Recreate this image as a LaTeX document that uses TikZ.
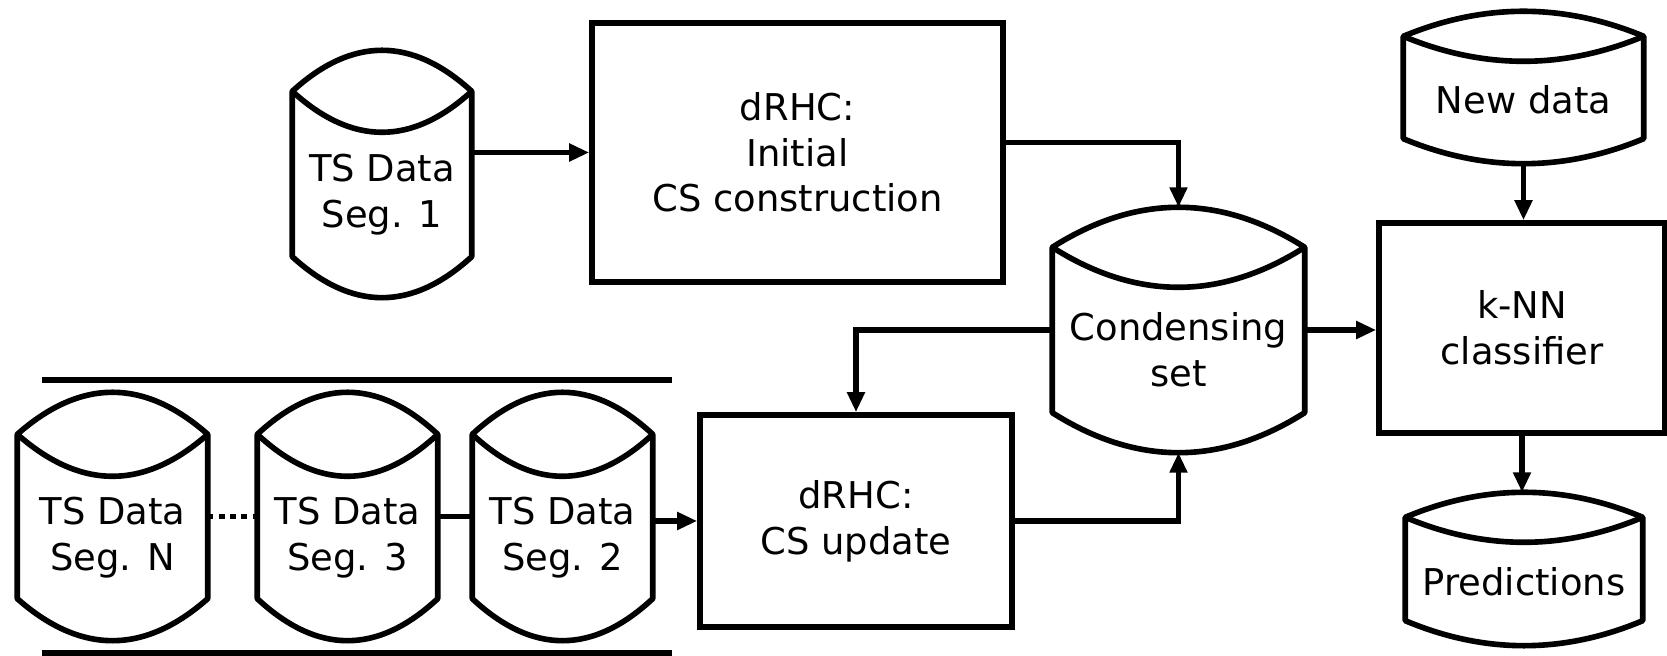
\documentclass[tikz,border=0pt]{standalone}
\usepackage{fontspec}
\setmainfont{DejaVu Sans}
\usetikzlibrary{calc,arrows.meta}

\tikzset{
  outl/.style={line width=1.6pt,line join=round},
  store/.style={inner sep=0pt,draw=none},
  txt/.style={inner sep=0pt,align=center,font=\fontsize{10.5}{13}\selectfont},
  proc/.style={draw,line width=1.6pt,inner sep=0pt,align=center,font=\fontsize{10.5}{13}\selectfont},
  arr/.style={line width=1.5pt,-{Triangle[length=0.2cm,width=0.17cm]}},
  link/.style={line width=1.5pt}
}

% almacen de datos: nombre, centro, ancho, alto, arco, texto
\newcommand{\datastore}[6]{%
  \node[store,minimum width=#3cm,minimum height=#4cm] (#1) at (#2) {};
  \node[txt] (#1-txt) at ($(#1.center)+(0,-#5/2)$) {#6};
  \draw[outl] ($(#1.north west)+(0,-#5)$)
     .. controls ($(#1.north west)!1/3!(#1.north east)+(0,#5/3)$)
             and ($(#1.north west)!2/3!(#1.north east)+(0,#5/3)$) .. ($(#1.north east)+(0,-#5)$)
     -- ($(#1.south east)+(0,#5)$)
     .. controls ($(#1.south west)!2/3!(#1.south east)+(0,-#5/3)$)
             and ($(#1.south west)!1/3!(#1.south east)+(0,-#5/3)$) .. ($(#1.south west)+(0,#5)$)
     -- cycle;
  \draw[outl] ($(#1.north west)+(0,-#5)$)
     .. controls ($(#1.north west)!1/3!(#1.north east)+(0,-7*#5/3)$)
             and ($(#1.north west)!2/3!(#1.north east)+(0,-7*#5/3)$) .. ($(#1.north east)+(0,-#5)$);
}

\begin{document}
\begin{tikzpicture}
\useasboundingbox (0,0) rectangle (16.67,-6.56);

% Segmento inicial y construccion
\datastore{seg1}{3.82,-1.74}{1.78}{2.46}{0.41}{TS Data\\Seg. 1}
\node[proc,minimum width=4.11cm,minimum height=2.59cm] (init) at (7.975,-1.525) {dRHC:\\Initial\\CS construction};

% Conjunto condensado
\datastore{cset}{11.785,-3.30}{2.51}{2.44}{0.40}{Condensing\\set}

% Actualizacion
\node[proc,minimum width=3.12cm,minimum height=2.12cm] (upd) at (8.56,-5.21) {dRHC:\\CS update};

% Segmentos restantes
\draw[outl] (0.42,-3.80) -- (6.72,-3.80);
\draw[outl] (0.42,-6.53) -- (6.72,-6.53);
\datastore{segN}{1.125,-5.165}{1.89}{2.47}{0.42}{TS Data\\Seg. N}
\datastore{seg3}{3.475,-5.165}{1.79}{2.47}{0.42}{TS Data\\Seg. 3}
\datastore{seg2}{5.625,-5.165}{1.79}{2.47}{0.42}{TS Data\\Seg. 2}

% Clasificador
\datastore{newd}{15.235,-0.875}{2.39}{1.51}{0.25}{New data}
\node[proc,minimum width=2.86cm,minimum height=2.10cm] (knn) at (15.22,-3.28) {k-NN\\classifier};
\datastore{pred}{15.24,-5.69}{2.36}{1.52}{0.25}{Predictions}

% Flechas
\draw[arr] (init.west -| seg1.east) -- (init.west);
\draw[arr] ($(init.east)+(0,0.1)$) -| (cset.north);
\draw[arr] (cset.west) -| (upd.north);
\draw[arr] (upd.east) -| (cset.south);
\draw[arr] (cset.east) -- (cset.east -| knn.west);
\draw[arr] (newd.south) -- (newd.south |- knn.north);
\draw[arr] (knn.south) -- (knn.south |- pred.north);
\draw[arr] (upd.west -| seg2.east) -- (upd.west);
\draw[link] (seg3.east) -- (seg2.west);
\draw[line width=1.6pt,dash pattern=on 1.6pt off 1.6pt] (segN.east) -- (seg3.west);

\end{tikzpicture}
\end{document}
